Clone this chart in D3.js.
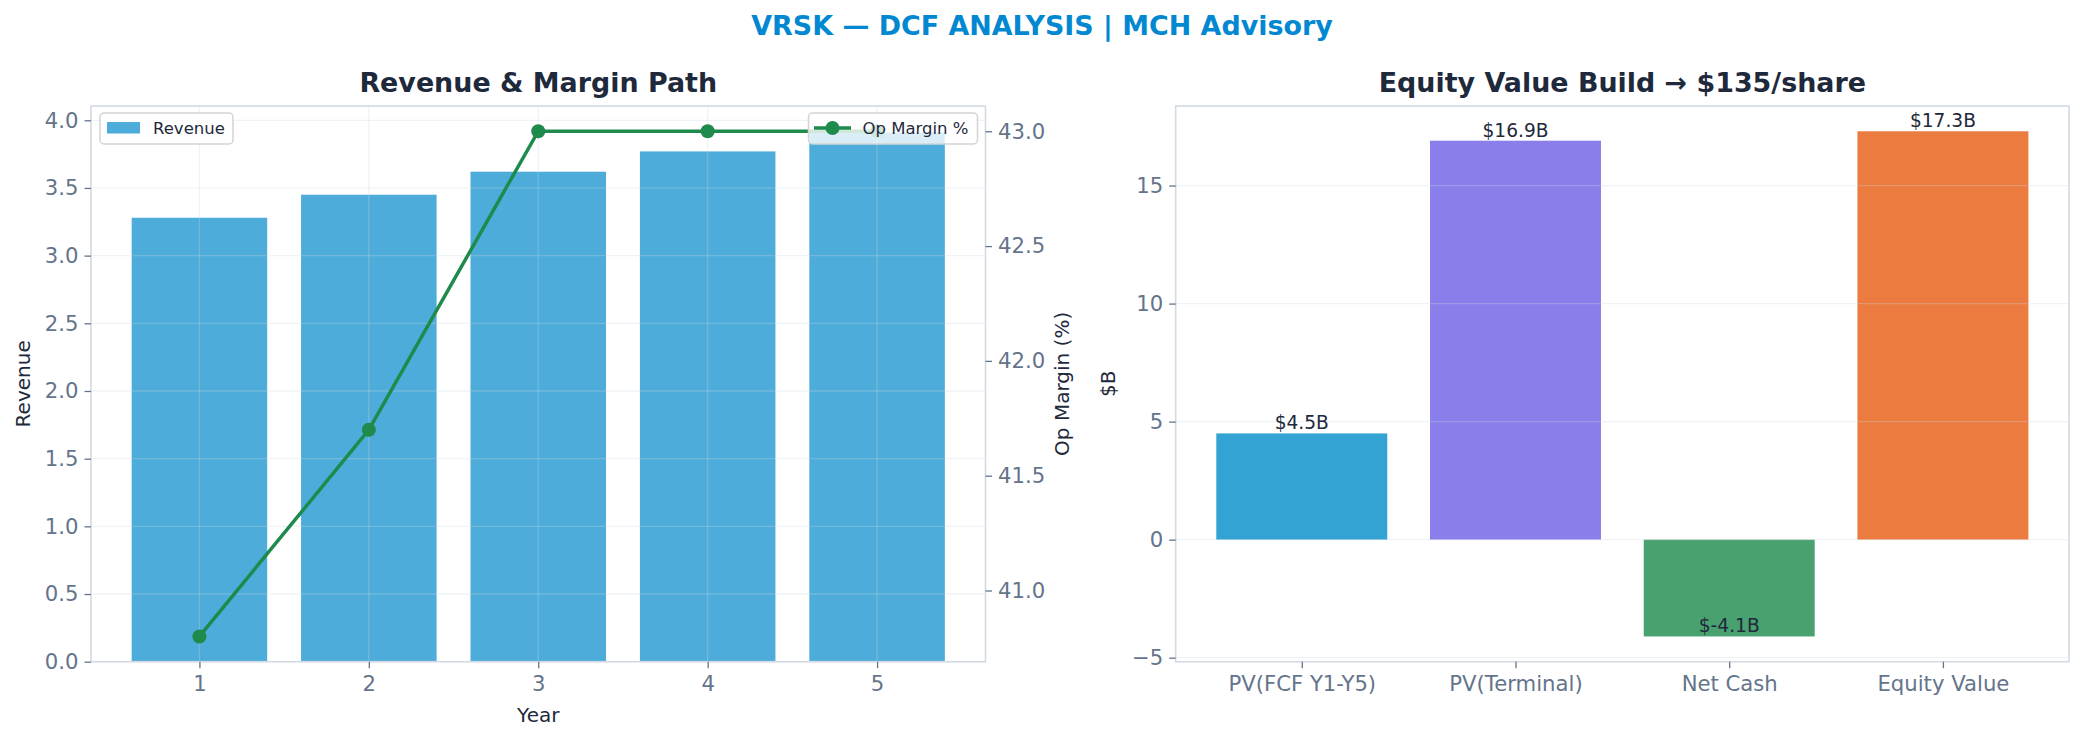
<html lang="en">
<head>
    <meta charset="UTF-8"/>
    <title>VRSK DCF</title>
    <style>
        body { margin: 0; background: #fff; }
        svg { display: block; }
        text { font-family: "DejaVu Sans", sans-serif; }
    </style>
</head>
<body>
<svg width="2085" height="742"></svg>
<script src="https://d3js.org/d3.v7.min.js"></script>
<script>
    // data
    const years = [1, 2, 3, 4, 5];
    const revenue = [3.28, 3.45, 3.62, 3.77, 3.91];
    const opMargin = [40.8, 41.7, 43.0, 43.0, 43.0];

    const buildCats = ["PV(FCF Y1-Y5)", "PV(Terminal)", "Net Cash", "Equity Value"];
    const buildVals = [4.5, 16.9, -4.1, 17.3];
    const buildColors = ["#33a3d3", "#8a7eea", "#4aa170", "#ec7b3f"];

    const revTicks = [0, 0.5, 1, 1.5, 2, 2.5, 3, 3.5, 4];
    const marginTicks = [41.0, 41.5, 42.0, 42.5, 43.0];

    const titleColor = "#1e293b";
    const tickColor = "#64748b";
    const spineColor = "#d3dae4";
    const gridColor = "#cbd5e1";

    const svg = d3.select("svg");

    svg.append("text")
        .attr("x", 1042).attr("y", 35)
        .attr("text-anchor", "middle")
        .attr("font-size", 26.9).attr("font-weight", "bold")
        .attr("fill", "#0288d1")
        .text("VRSK — DCF ANALYSIS | MCH Advisory");

    // ---------- left: revenue & margin ----------
    const L = {x0: 91, x1: 985.5, y0: 106, y1: 661.7};
    const lx = d3.scaleLinear().domain([0.36, 5.64]).range([L.x0, L.x1]);
    const ly = d3.scaleLinear().domain([0, d3.max(revenue) * 1.05]).range([L.y1, L.y0]);
    const mExt = d3.extent(opMargin), mPad = (mExt[1] - mExt[0]) * 0.05;
    const ly2 = d3.scaleLinear().domain([mExt[0] - mPad, mExt[1] + mPad]).range([L.y1, L.y0]);

    const left = svg.append("g");

    left.append("g").selectAll("rect")
        .data(years)
        .join("rect")
        .attr("x", d => lx(d - 0.4))
        .attr("width", lx(0.8) - lx(0))
        .attr("y", (d, i) => ly(revenue[i]))
        .attr("height", (d, i) => ly(0) - ly(revenue[i]))
        .attr("fill", "#4dacd9");

    // grid over the bars
    const lgrid = left.append("g").attr("stroke", gridColor).attr("stroke-opacity", 0.3).attr("stroke-width", 1.3);
    lgrid.selectAll("line.h").data(revTicks).join("line").attr("class", "h")
        .attr("x1", L.x0).attr("x2", L.x1).attr("y1", d => ly(d)).attr("y2", d => ly(d));
    lgrid.selectAll("line.v").data(years).join("line").attr("class", "v")
        .attr("y1", L.y0).attr("y2", L.y1).attr("x1", d => lx(d)).attr("x2", d => lx(d));

    const lineGen = d3.line().x((d, i) => lx(years[i])).y(d => ly2(d));
    left.append("path")
        .datum(opMargin)
        .attr("d", lineGen)
        .attr("fill", "none").attr("stroke", "#1e8a4c").attr("stroke-width", 3.5);
    left.selectAll("circle.pt").data(opMargin).join("circle").attr("class", "pt")
        .attr("cx", (d, i) => lx(years[i])).attr("cy", d => ly2(d)).attr("r", 7)
        .attr("fill", "#1e8a4c");

    left.append("rect")
        .attr("x", L.x0).attr("y", L.y0).attr("width", L.x1 - L.x0).attr("height", L.y1 - L.y0)
        .attr("fill", "none").attr("stroke", spineColor).attr("stroke-width", 1.6);

    function styleAxis(g) {
        g.select(".domain").remove();
        g.selectAll(".tick line").attr("stroke", tickColor).attr("stroke-width", 1.3);
        g.selectAll(".tick text").attr("fill", tickColor).attr("font-size", 21.2)
            .attr("font-family", "DejaVu Sans");
    }

    left.append("g").attr("transform", `translate(0,${L.y1})`)
        .call(d3.axisBottom(lx).tickValues(years).tickFormat(d3.format("d")).tickSize(6.5).tickPadding(8))
        .call(styleAxis);
    left.append("g").attr("transform", `translate(${L.x0},0)`)
        .call(d3.axisLeft(ly).tickValues(revTicks).tickFormat(d3.format(".1f")).tickSize(6.5).tickPadding(6))
        .call(styleAxis);
    left.append("g").attr("transform", `translate(${L.x1},0)`)
        .call(d3.axisRight(ly2).tickValues(marginTicks).tickFormat(d3.format(".1f")).tickSize(6.5).tickPadding(6))
        .call(styleAxis);

    left.append("text")
        .attr("x", (L.x0 + L.x1) / 2).attr("y", 92)
        .attr("text-anchor", "middle").attr("font-size", 26.9).attr("font-weight", "bold")
        .attr("fill", titleColor).text("Revenue & Margin Path");
    left.append("text")
        .attr("x", (L.x0 + L.x1) / 2).attr("y", 722)
        .attr("text-anchor", "middle").attr("font-size", 20).attr("fill", titleColor).text("Year");
    left.append("text")
        .attr("transform", `translate(30,${(L.y0 + L.y1) / 2}) rotate(-90)`)
        .attr("text-anchor", "middle").attr("font-size", 20).attr("fill", titleColor).text("Revenue");
    left.append("text")
        .attr("transform", `translate(1069,${(L.y0 + L.y1) / 2}) rotate(-90)`)
        .attr("text-anchor", "middle").attr("font-size", 20).attr("fill", titleColor).text("Op Margin (%)");

    // legends
    const leg1 = left.append("g");
    leg1.append("rect").attr("x", 100).attr("y", 113).attr("width", 133).attr("height", 31).attr("rx", 4)
        .attr("fill", "#fff").attr("fill-opacity", 0.8).attr("stroke", "#d4d4d4").attr("stroke-width", 1.5);
    leg1.append("rect").attr("x", 107).attr("y", 122).attr("width", 33).attr("height", 11.5).attr("fill", "#4dacd9");
    leg1.append("text").attr("x", 153).attr("y", 134).attr("font-size", 16.5).attr("fill", titleColor).text("Revenue");

    const leg2 = left.append("g");
    leg2.append("rect").attr("x", 808.5).attr("y", 113).attr("width", 169).attr("height", 31).attr("rx", 4)
        .attr("fill", "#fff").attr("fill-opacity", 0.8).attr("stroke", "#d4d4d4").attr("stroke-width", 1.5);
    leg2.append("line").attr("x1", 814).attr("x2", 851).attr("y1", 128).attr("y2", 128)
        .attr("stroke", "#1e8a4c").attr("stroke-width", 3.5);
    leg2.append("circle").attr("cx", 832.5).attr("cy", 128).attr("r", 7).attr("fill", "#1e8a4c");
    leg2.append("text").attr("x", 862.5).attr("y", 134).attr("font-size", 16.5).attr("fill", titleColor).text("Op Margin %");

    // ---------- right: equity value build ----------
    const R = {x0: 1175.7, x1: 2069, y0: 106, y1: 661.7};
    const rx = d3.scaleLinear().domain([-0.59, buildCats.length - 1 + 0.59]).range([R.x0, R.x1]);
    const bMin = Math.min(0, d3.min(buildVals)), bMax = d3.max(buildVals), bPad = (bMax - bMin) * 0.05;
    const ry = d3.scaleLinear().domain([bMin - bPad, bMax + bPad]).range([R.y1, R.y0]);

    const right = svg.append("g");

    right.append("g").selectAll("rect")
        .data(buildVals)
        .join("rect")
        .attr("x", (d, i) => rx(i - 0.4))
        .attr("width", rx(0.8) - rx(0))
        .attr("y", d => ry(Math.max(0, d)))
        .attr("height", d => Math.abs(ry(d) - ry(0)))
        .attr("fill", (d, i) => buildColors[i]);

    const ryTicks = ry.ticks(5);
    right.append("g").attr("stroke", gridColor).attr("stroke-opacity", 0.3).attr("stroke-width", 1.3)
        .selectAll("line").data(ryTicks).join("line")
        .attr("x1", R.x0).attr("x2", R.x1).attr("y1", d => ry(d)).attr("y2", d => ry(d));

    right.append("g").selectAll("text")
        .data(buildVals)
        .join("text")
        .attr("x", (d, i) => rx(i))
        .attr("y", d => ry(d) - 4)
        .attr("text-anchor", "middle").attr("font-size", 18.6).attr("fill", titleColor)
        .text(d => `$${d.toFixed(1)}B`);

    right.append("rect")
        .attr("x", R.x0).attr("y", R.y0).attr("width", R.x1 - R.x0).attr("height", R.y1 - R.y0)
        .attr("fill", "none").attr("stroke", spineColor).attr("stroke-width", 1.6);

    right.append("g").attr("transform", `translate(0,${R.y1})`)
        .call(d3.axisBottom(rx).tickValues(d3.range(buildCats.length)).tickFormat(i => buildCats[i])
            .tickSize(6.5).tickPadding(8))
        .call(styleAxis);
    right.append("g").attr("transform", `translate(${R.x0},0)`)
        .call(d3.axisLeft(ry).tickValues(ryTicks).tickSize(6.5).tickPadding(6))
        .call(styleAxis);

    right.append("text")
        .attr("x", (R.x0 + R.x1) / 2).attr("y", 92)
        .attr("text-anchor", "middle").attr("font-size", 26.9).attr("font-weight", "bold")
        .attr("fill", titleColor).text("Equity Value Build → $135/share");
    right.append("text")
        .attr("transform", `translate(1115,${(R.y0 + R.y1) / 2}) rotate(-90)`)
        .attr("text-anchor", "middle").attr("font-size", 20).attr("fill", titleColor).text("$B");
</script>
</body>
</html>
